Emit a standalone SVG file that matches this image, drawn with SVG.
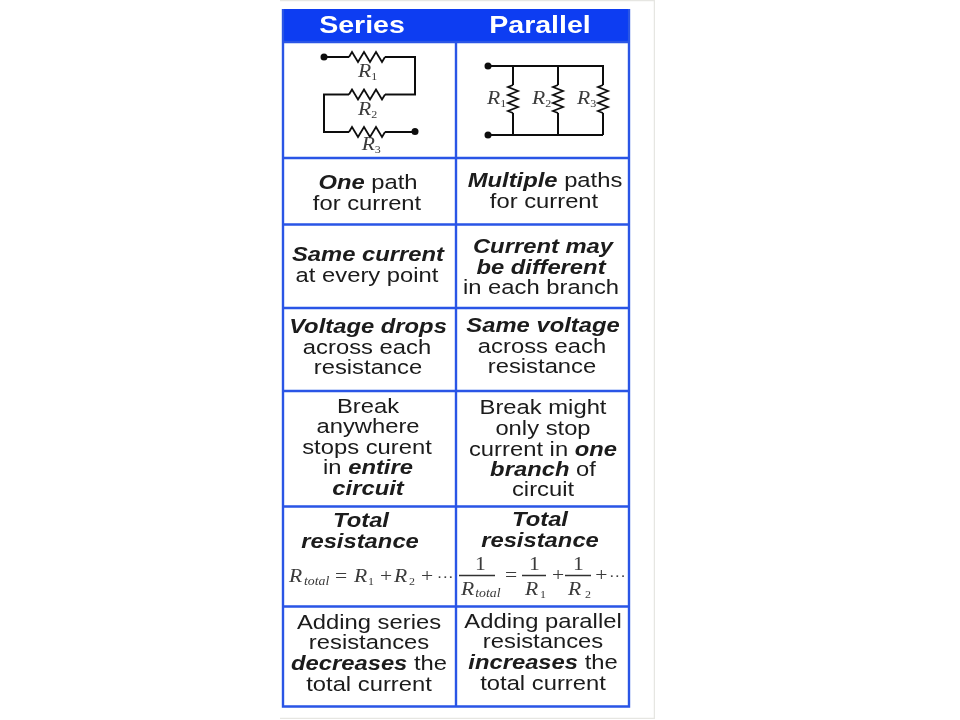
<svg xmlns="http://www.w3.org/2000/svg" width="960" height="720" viewBox="0 0 960 720">
<defs>
<style>
text{font-family:"Liberation Sans",Arial,sans-serif;fill:#1a1a1a}
.t{font-size:19.500px;text-anchor:middle}
.b{font-weight:bold;font-style:italic}
.h{font-size:24px;font-weight:bold;fill:#fff;text-anchor:middle}
.m{font-family:"Liberation Serif","Times New Roman",serif;font-size:18px;fill:#3a3a3a}
.i{font-style:italic}
.s{font-size:10px;font-style:normal}
.o{font-size:11.500px;font-style:italic}
.d{font-size:14px}
.g{fill:none;stroke:#2a55e6;stroke-width:2.4}
.w{fill:none;stroke:#111;stroke-width:2}
.f{fill:none;stroke:#333;stroke-width:1.3}
</style>
<filter id="soft" x="0" y="0" width="1" height="1"><feGaussianBlur stdDeviation="0.4"/></filter>
<path id="hz" d="M0 0l3-5 6 10 6-10 6 10 6-10 6 10 3-5" fill="none" stroke="#111" stroke-width="1.8"/>
<path id="vz" d="M0 0l-5 2 10 4-10 4 10 4-10 4 10 4-10 4 5 2" fill="none" stroke="#111" stroke-width="1.8"/>
</defs>
<rect width="960" height="720" fill="#fff"/>
<g filter="url(#soft)">
<path d="M280 0.5H654.5V718.5H280" fill="none" stroke="#e6e6e2" stroke-width="1.5"/>
<g id="table">
<rect x="283" y="9" width="346" height="33" fill="#0a3cf2"/>
<path class="g" d="M283 9V706.5H629V9M456 42V706.5M283 42H629M283 158H629M283 224.5H629M283 308H629M283 391H629M283 506.5H629M283 606.5H629"/>
</g>
<g id="header-series"><text class="h" transform="translate(362 33) scale(1.19 1)">Series</text></g>
<g id="header-parallel"><text class="h" transform="translate(540 33) scale(1.19 1)">Parallel</text></g>
<g id="circuit-series">
<path class="w" d="M324 57H349M385 57H415V94.500H385M349 94.500H324V132H349M385 132H415"/>
<use href="#hz" x="349" y="57"/><use href="#hz" x="349" y="94.500"/><use href="#hz" x="349" y="132"/>
<circle cx="324" cy="57" r="3.500" fill="#111"/><circle cx="415" cy="131.500" r="3.500" fill="#111"/>
<g transform="scale(1.2 1)">
<text class="m i" x="298.300" y="77">R<tspan class="s" dy="3">1</tspan></text>
<text class="m i" x="298.300" y="115">R<tspan class="s" dy="3">2</tspan></text>
<text class="m i" x="301.400" y="150">R<tspan class="s" dy="3">3</tspan></text>
</g>
</g>
<g id="circuit-parallel">
<path class="w" d="M488 66H603V85M513 66V85M558 66V85M513 113V135M558 113V135M603 113V135M488 135H603"/>
<use href="#vz" x="513" y="85"/><use href="#vz" x="558" y="85"/><use href="#vz" x="603" y="85"/>
<circle cx="488" cy="66" r="3.500" fill="#111"/><circle cx="488" cy="135" r="3.500" fill="#111"/>
<g transform="scale(1.2 1)">
<text class="m i" x="405.800" y="104">R<tspan class="s" dy="3">1</tspan></text>
<text class="m i" x="443.300" y="104">R<tspan class="s" dy="3">2</tspan></text>
<text class="m i" x="480.800" y="104">R<tspan class="s" dy="3">3</tspan></text>
</g>
</g>
<g id="series-path">
<text class="t" transform="translate(368 189) scale(1.22 1)"><tspan class="b">One</tspan> path</text>
<text class="t" transform="translate(367 210) scale(1.22 1)">for current</text>
</g>
<g id="parallel-path">
<text class="t" transform="translate(545 187) scale(1.22 1)"><tspan class="b">Multiple</tspan> paths</text>
<text class="t" transform="translate(544 208) scale(1.22 1)">for current</text>
</g>
<g id="series-current">
<text class="t b" transform="translate(368 261) scale(1.22 1)">Same current</text>
<text class="t" transform="translate(367 282) scale(1.22 1)">at every point</text>
</g>
<g id="parallel-current">
<text class="t b" transform="translate(543 253) scale(1.22 1)">Current may</text>
<text class="t b" transform="translate(541 274) scale(1.22 1)">be different</text>
<text class="t" transform="translate(541 294) scale(1.22 1)">in each branch</text>
</g>
<g id="series-voltage">
<text class="t b" transform="translate(368 333) scale(1.22 1)">Voltage drops</text>
<text class="t" transform="translate(367 354) scale(1.22 1)">across each</text>
<text class="t" transform="translate(368 374) scale(1.22 1)">resistance</text>
</g>
<g id="parallel-voltage">
<text class="t b" transform="translate(543 332) scale(1.22 1)">Same voltage</text>
<text class="t" transform="translate(542 353) scale(1.22 1)">across each</text>
<text class="t" transform="translate(542 373) scale(1.22 1)">resistance</text>
</g>
<g id="series-break">
<text class="t" transform="translate(368 413) scale(1.22 1)">Break</text>
<text class="t" transform="translate(368 433) scale(1.22 1)">anywhere</text>
<text class="t" transform="translate(367 454) scale(1.22 1)">stops curent</text>
<text class="t" transform="translate(368 474) scale(1.22 1)">in <tspan class="b">entire</tspan></text>
<text class="t b" transform="translate(368 495) scale(1.22 1)">circuit</text>
</g>
<g id="parallel-break">
<text class="t" transform="translate(543 414) scale(1.22 1)">Break might</text>
<text class="t" transform="translate(543 435) scale(1.22 1)">only stop</text>
<text class="t" transform="translate(543 456) scale(1.22 1)">current in <tspan class="b">one</tspan></text>
<text class="t" transform="translate(543 476) scale(1.22 1)"><tspan class="b">branch</tspan> of</text>
<text class="t" transform="translate(543 496) scale(1.22 1)">circuit</text>
</g>
<g id="series-total">
<text class="t b" transform="translate(361 527) scale(1.22 1)">Total</text>
<text class="t b" transform="translate(360 548) scale(1.22 1)">resistance</text>
<text class="m" y="582" transform="scale(1.2 1)"><tspan class="i" x="240.800">R</tspan><tspan class="o" x="253.300" dy="3">total</tspan><tspan x="279.200" dy="-3">=</tspan><tspan class="i" x="295">R</tspan><tspan class="s" x="306.700" dy="3">1</tspan><tspan x="316.700" dy="-3">+</tspan><tspan class="i" x="328.300">R</tspan><tspan class="s" x="340.800" dy="3">2</tspan><tspan x="350.800" dy="-3">+</tspan><tspan class="d" x="364">···</tspan></text>
</g>
<g id="parallel-total">
<text class="t b" transform="translate(540 526) scale(1.22 1)">Total</text>
<text class="t b" transform="translate(540 547) scale(1.22 1)">resistance</text>
<path class="f" d="M459 575.500H495M522 575.500H546M565 575.500H591"/>
<g transform="scale(1.2 1)">
<text class="m" x="395.800" y="570">1</text><text class="m" x="440.800" y="570">1</text><text class="m" x="477.500" y="570">1</text>
<text class="m" y="595"><tspan class="i" x="384.200">R</tspan><tspan class="o" x="396" dy="2">total</tspan><tspan class="i" x="437.500" dy="-2">R</tspan><tspan class="s" x="450" dy="3">1</tspan><tspan class="i" x="473.300" dy="-3">R</tspan><tspan class="s" x="487.500" dy="3">2</tspan></text>
<text class="m" y="581"><tspan x="420.800">=</tspan><tspan x="460">+</tspan><tspan x="496">+</tspan><tspan class="d" x="507.500">···</tspan></text>
</g>
</g>
<g id="series-adding">
<text class="t" transform="translate(369 629) scale(1.22 1)">Adding series</text>
<text class="t" transform="translate(369 649) scale(1.22 1)">resistances</text>
<text class="t" transform="translate(369 670) scale(1.22 1)"><tspan class="b">decreases</tspan> the</text>
<text class="t" transform="translate(369 691) scale(1.22 1)">total current</text>
</g>
<g id="parallel-adding">
<text class="t" transform="translate(543 628) scale(1.22 1)">Adding parallel</text>
<text class="t" transform="translate(543 648) scale(1.22 1)">resistances</text>
<text class="t" transform="translate(543 669) scale(1.22 1)"><tspan class="b">increases</tspan> the</text>
<text class="t" transform="translate(543 690) scale(1.22 1)">total current</text>
</g>
</g>
</svg>
